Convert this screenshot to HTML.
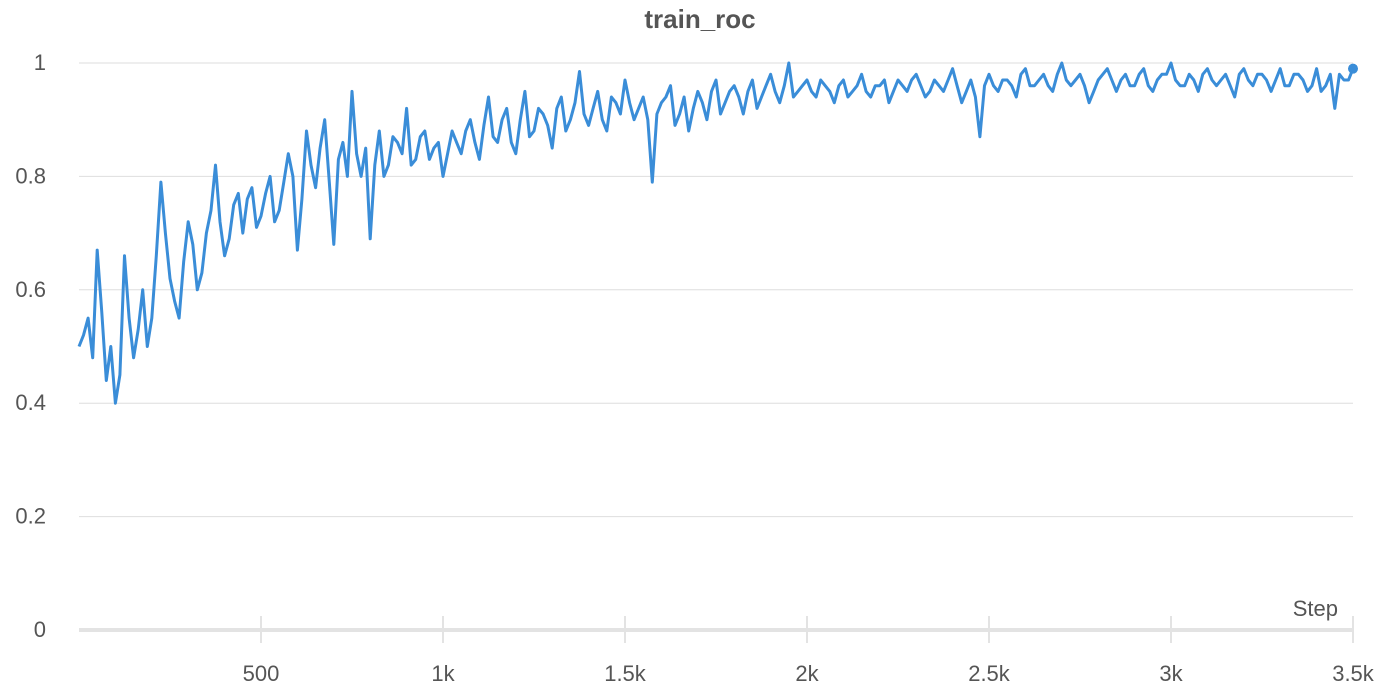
<!DOCTYPE html>
<html><head><meta charset="utf-8"><style>
html,body{margin:0;padding:0;background:#fff;}
svg{display:block;font-family:"Liberation Sans",sans-serif;}
</style></head><body>
<svg id="chart" width="1400" height="700">
<text x="700" y="28" text-anchor="middle" font-size="26" font-weight="bold" fill="#555">train_roc</text>
<g id="grid"></g><g id="xaxis"></g><g id="plot"></g>
<text x="1338" y="616" text-anchor="end" font-size="22" fill="#555">Step</text>
</svg>
<script>
const rocValues = [0.50,0.55,0.67,0.44,0.40,0.66,0.48,0.60,0.55,0.79,0.62,0.55,0.72,0.60,0.70,0.82,0.66,0.75,0.70,0.78,0.73,0.80,0.74,0.84,0.67,0.88,0.78,0.90,0.68,0.86,0.95,0.80,0.69,0.88,0.82,0.86,0.92,0.83,0.88,0.85,0.80,0.88,0.84,0.90,0.83,0.94,0.86,0.92,0.84,0.95,0.88,0.91,0.85,0.94,0.90,0.985,0.89,0.95,0.88,0.93,0.97,0.90,0.94,0.79,0.93,0.96,0.91,0.88,0.95,0.90,0.97,0.93,0.96,0.91,0.97,0.94,0.98,0.93,1.0,0.95,0.97,0.94,0.96,0.93,0.97,0.95,0.98,0.94,0.96,0.93,0.97,0.95,0.98,0.94,0.97,0.95,0.99,0.93,0.97,0.87,0.98,0.95,0.97,0.94,0.99,0.96,0.98,0.95,1.0,0.96,0.98,0.93,0.97,0.99,0.95,0.98,0.96,0.99,0.95,0.98,1.0,0.96,0.98,0.95,0.99,0.96,0.98,0.94,0.99,0.96,0.98,0.95,0.99,0.96,0.98,0.95,0.99,0.96,0.92,0.97,0.99];
const midValues = [0.52,0.48,0.56,0.50,0.45,0.55,0.53,0.50,0.66,0.70,0.58,0.65,0.68,0.63,0.74,0.72,0.69,0.77,0.76,0.71,0.77,0.72,0.79,0.80,0.76,0.82,0.85,0.79,0.83,0.80,0.84,0.85,0.82,0.80,0.87,0.84,0.82,0.87,0.83,0.86,0.84,0.86,0.88,0.86,0.89,0.87,0.90,0.86,0.90,0.87,0.92,0.89,0.92,0.88,0.93,0.91,0.92,0.90,0.94,0.91,0.93,0.92,0.90,0.91,0.94,0.89,0.94,0.92,0.93,0.95,0.91,0.95,0.94,0.95,0.92,0.96,0.95,0.96,0.94,0.96,0.95,0.97,0.95,0.96,0.94,0.96,0.95,0.96,0.97,0.95,0.96,0.97,0.96,0.95,0.96,0.97,0.96,0.95,0.94,0.96,0.96,0.97,0.96,0.98,0.96,0.97,0.96,0.98,0.97,0.97,0.96,0.95,0.98,0.97,0.97,0.96,0.98,0.96,0.97,0.98,0.97,0.96,0.97,0.98,0.97,0.97,0.96,0.98,0.97,0.98,0.97,0.97,0.96,0.98,0.97,0.96,0.95,0.98,0.98,0.97];
const steps = [];
for (let s = 0; s <= 3500; s += 25) steps.push(s);
const yTicks = [0, 0.2, 0.4, 0.6, 0.8, 1];
const yTickLabels = ["0","0.2","0.4","0.6","0.8","1"];
const xTicks = [500,1000,1500,2000,2500,3000,3500];
const xTickLabels = ["500","1k","1.5k","2k","2.5k","3k","3.5k"];

const X = s => 79 + (s / 3500) * (1353 - 79);
const Y = v => 630 - v * 567;
const NS = "http://www.w3.org/2000/svg";
function mk(tag, attrs, parent){const e=document.createElementNS(NS,tag);for(const k in attrs)e.setAttribute(k,attrs[k]);parent.appendChild(e);return e;}
const grid=document.getElementById('grid'), xa=document.getElementById('xaxis'), plot=document.getElementById('plot');
yTicks.forEach((t,i)=>{
  if(t>0){const l=mk('line',{x1:79,x2:1353,y1:Y(t),y2:Y(t),stroke:'#dedede','stroke-width':1},grid);
  
  }
  const tx=mk('text',{x:46,y:Y(t)+7,'text-anchor':'end','font-size':22,fill:'#555'},grid);
  tx.textContent=yTickLabels[i];
  
  
});
const ax=mk('line',{x1:79,x2:1353,y1:630,y2:630,stroke:'#e3e3e3','stroke-width':4},xa);


xTicks.forEach((t,i)=>{
  const tk=mk('line',{x1:X(t),x2:X(t),y1:616,y2:643,stroke:'#e3e3e3','stroke-width':2},xa);
  
  
  const tx=mk('text',{x:X(t),y:681,'text-anchor':'middle','font-size':22,fill:'#555'},xa);
  tx.textContent=xTickLabels[i];
  
  
});
const pts=[];
steps.forEach((s,i)=>{
  pts.push([s,rocValues[i]]);
  if(i<midValues.length) pts.push([s+12.5,midValues[i]]);
});
const d=pts.map((p,i)=>(i?'L':'M')+X(p[0]).toFixed(1)+','+Y(p[1]).toFixed(1)).join(' ');
const p=mk('path',{d:d,fill:'none',stroke:'#3a8dd8','stroke-width':3,'stroke-linejoin':'round'},plot);


const last=steps.length-1;
const dot=mk('circle',{cx:X(steps[last]),cy:Y(rocValues[last]),r:5,fill:'#3a8dd8'},plot);


</script>
</body></html>
